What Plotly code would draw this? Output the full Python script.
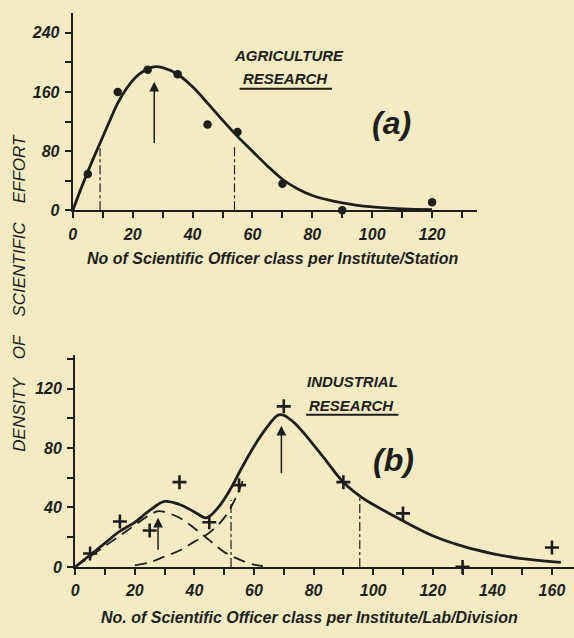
import plotly.graph_objects as go

W, H = 574, 638
BG = '#f4ebc4'
INK = '#1d1f1a'
FONT = 'Liberation Sans, Arial, sans-serif'

# ---------------- (a) Agriculture research ----------------
a_pts_x = [5, 15, 25, 35, 45, 55, 70, 90, 120]
a_pts_y = [49, 160, 190, 184, 116, 106, 36, 0, 11]
a_fit_x = [0, 3, 6, 9, 12, 15, 18, 21, 24, 27, 30, 35, 40, 45, 50, 55, 60, 65, 70, 75, 80, 90, 100, 110, 120]
a_fit_y = [0, 32, 62, 90, 118, 145, 165, 180, 189, 194, 193, 184, 167, 145, 122, 100, 80, 60, 42, 29, 20, 10, 4.5, 2, 1]
a_mark_x = [9.1, 54.0]
a_mark_y = [84, 86]
a_arrow_x = [27.2]
a_arrow_y0 = [89]
a_arrow_y1 = [174]
a_xticks = [0, 20, 40, 60, 80, 100, 120]
a_yticks = [0, 80, 160, 240]

# ---------------- (b) Industrial research ----------------
b_pts_x = [5, 15, 25, 35, 45, 55, 70, 90, 110, 130, 160]
b_pts_y = [9, 30.5, 24.5, 57, 30, 55, 108, 57, 36, 0, 13]
b_fit_x = [0, 5, 10, 15, 20, 25, 30, 35, 40, 44, 48, 52, 56, 60, 64, 68, 70, 74, 78, 84, 90, 96, 100, 110, 120, 130, 140, 150, 163]
b_fit_y = [0, 8, 16, 24, 30, 38, 44, 42, 37, 33, 40, 52, 67, 81, 93, 102, 102, 96, 87, 72, 57, 47, 42, 31, 21, 14, 9, 5.5, 3]
b_c1_x = [0, 5, 10, 15, 20, 25, 28, 30, 35, 40, 45, 50, 55, 60, 63]
b_c1_y = [0, 7, 14, 21, 28, 35, 37.5, 37, 33, 26, 18, 10, 5, 1.5, 0.5]
b_c2_x = [20, 25, 30, 35, 40, 45, 50, 54, 57]
b_c2_y = [1, 3, 7, 11, 17, 23, 33, 47, 62]
b_mark_x = [52.3, 95.5]
b_mark_y = [45, 46.5]
b_arrow_x = [27.8, 69.2]
b_arrow_y0 = [10.5, 62]
b_arrow_y1 = [33, 95]
b_xticks = [0, 20, 40, 60, 80, 100, 120, 140, 160]
b_yticks = [0, 40, 80, 120]

fig = go.Figure()

# ---- panel (a) ----
fig.add_trace(go.Scatter(x=a_fit_x, y=a_fit_y, mode='lines', line=dict(color=INK, width=2.8, shape='spline'),
                         xaxis='x', yaxis='y', cliponaxis=False, hoverinfo='skip'))
for mx, my in zip(a_mark_x, a_mark_y):
    fig.add_trace(go.Scatter(x=[mx, mx], y=[0, my], mode='lines', line=dict(color=INK, width=1.2, dash='dashdot'),
                             xaxis='x', yaxis='y', hoverinfo='skip'))
fig.add_trace(go.Scatter(x=a_pts_x, y=a_pts_y, mode='markers',
                         marker=dict(symbol='circle', size=8.5, color=INK),
                         xaxis='x', yaxis='y', cliponaxis=False))

# ---- panel (b) ----
fig.add_trace(go.Scatter(x=b_c1_x, y=b_c1_y, mode='lines', line=dict(color=INK, width=1.8, dash='12px,7px', shape='spline'),
                         xaxis='x2', yaxis='y2', hoverinfo='skip'))
fig.add_trace(go.Scatter(x=b_c2_x, y=b_c2_y, mode='lines', line=dict(color=INK, width=1.8, dash='12px,7px', shape='spline'),
                         xaxis='x2', yaxis='y2', hoverinfo='skip'))
fig.add_trace(go.Scatter(x=b_fit_x, y=b_fit_y, mode='lines', line=dict(color=INK, width=2.8, shape='spline'),
                         xaxis='x2', yaxis='y2', cliponaxis=False, hoverinfo='skip'))
for mx, my in zip(b_mark_x, b_mark_y):
    fig.add_trace(go.Scatter(x=[mx, mx], y=[0, my], mode='lines', line=dict(color=INK, width=1.2, dash='dashdot'),
                             xaxis='x2', yaxis='y2', hoverinfo='skip'))
fig.add_trace(go.Scatter(x=b_pts_x, y=b_pts_y, mode='markers',
                         marker=dict(symbol='cross-thin', size=10, line=dict(color=INK, width=2.6)),
                         xaxis='x2', yaxis='y2', cliponaxis=False))

tickfont = dict(family=FONT, size=16, color=INK, style='italic', weight='bold')
common_x = dict(showgrid=False, zeroline=False, showline=True, linecolor=INK, linewidth=2.2,
                ticks='outside', ticklen=6, tickwidth=2, tickcolor=INK, tickfont=tickfont,
                ticklabelstandoff=2,
                minor=dict(ticks='outside', ticklen=6, tickwidth=2, tickcolor=INK, dtick=10, tick0=0))
common_y = dict(showgrid=False, zeroline=False, showline=True, linecolor=INK, linewidth=2.2,
                ticks='outside', ticklen=6, tickwidth=2, tickcolor=INK, tickfont=tickfont,
                ticklabelstandoff=2)

fig.update_layout(
    width=W, height=H, margin=dict(l=0, r=0, t=0, b=0),
    paper_bgcolor=BG, plot_bgcolor=BG, showlegend=False,
    xaxis=dict(common_x, domain=[69.3 / W, 476 / W], range=[0, 134.9],
               tickvals=a_xticks, anchor='y'),
    yaxis=dict(common_y, domain=[1 - 213.3 / H, 1 - 13.3 / H], range=[0, 266.7],
               tickvals=a_yticks, anchor='x',
               minor=dict(ticks='outside', ticklen=6, tickwidth=2, tickcolor=INK, dtick=40, tick0=0)),
    xaxis2=dict(common_x, domain=[71.7 / W, 1.0], range=[0, 167.4],
                tickvals=b_xticks, anchor='y2'),
    yaxis2=dict(common_y, domain=[1 - 575 / H, 1 - 360 / H], range=[0, 142.6],
                tickvals=b_yticks, anchor='x2',
                minor=dict(ticks='outside', ticklen=6, tickwidth=2, tickcolor=INK, dtick=20, tick0=0)),
)

annots = []
lab = dict(family=FONT, size=15, color=INK, style='italic', weight='bold')
big = dict(family=FONT, size=32, color=INK, style='italic', weight='bold')
C = dict(xanchor='center', yanchor='middle', showarrow=False)
# panel labels
annots += [
    dict(C, x=72.1, y=209.7, xref='x', yref='y', text='AGRICULTURE', font=lab),
    dict(C, x=71.2, y=177.7, xref='x', yref='y', text='RESEARCH', font=lab),
    dict(C, x=106.4, y=117.7, xref='x', yref='y', text='(a)', font=big),
    dict(C, x=93.0, y=124.7, xref='x2', yref='y2', text='INDUSTRIAL', font=lab),
    dict(C, x=92.8, y=108.6, xref='x2', yref='y2', text='RESEARCH', font=lab),
    dict(C, x=106.9, y=71.8, xref='x2', yref='y2', text='(b)', font=big),
]
# arrows
for ax_, y0, y1 in zip(a_arrow_x, a_arrow_y0, a_arrow_y1):
    annots.append(dict(x=ax_, y=y1, ax=ax_, ay=y0, xref='x', yref='y', axref='x', ayref='y', text='',
                       showarrow=True, arrowhead=2, arrowsize=1.3, arrowwidth=1.5, arrowcolor=INK))
for ax_, y0, y1 in zip(b_arrow_x, b_arrow_y0, b_arrow_y1):
    annots.append(dict(x=ax_, y=y1, ax=ax_, ay=y0, xref='x2', yref='y2', axref='x2', ayref='y2', text='',
                       showarrow=True, arrowhead=2, arrowsize=1.3, arrowwidth=1.5, arrowcolor=INK))
# axis titles
ttl = dict(family=FONT, size=16, color=INK, style='italic', weight='bold')
sp = '\u00a0' * 4
annots += [
    dict(C, x=270.5 / W, y=1 - 261.7 / H, xref='paper', yref='paper', font=ttl,
         text='No of Scientific Officer class per Institute/Station'),
    dict(C, x=307.5 / W, y=1 - 626.7 / H, xref='paper', yref='paper', font=ttl,
         text='No. of Scientific Officer class per Institute/Lab/Division'),
    dict(C, x=16 / W, y=1 - 297 / H, xref='paper', yref='paper', textangle=-90,
         font=dict(family=FONT, size=17, color=INK, style='italic'),
         text='DENSITY' + sp + 'OF' + sp + 'SCIENTIFIC' + sp + 'EFFORT'),
]
fig.update_layout(annotations=annots)

# underlines of "RESEARCH"
fig.add_shape(type='line', xref='x', yref='y', x0=55.7, x1=86.6, y0=164.4, y1=164.4, line=dict(color=INK, width=2))
fig.add_shape(type='line', xref='x2', yref='y2', x0=77.5, x1=108.5, y0=102.3, y1=102.3, line=dict(color=INK, width=2))

fig.write_html('out.html', config={'displayModeBar': False},
               post_script="document.body.style.margin='0px';")
